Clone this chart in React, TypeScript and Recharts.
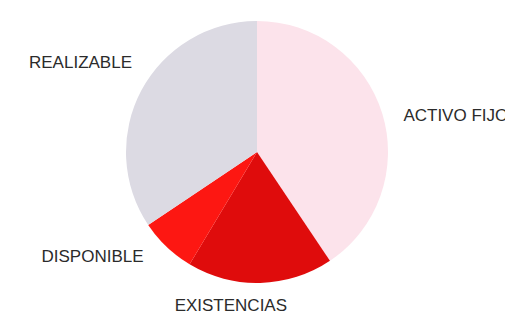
import React from "react";
import { PieChart, Pie, Cell } from "recharts";

// balance composition, read clockwise from 12 o'clock
const categories = ["ACTIVO FIJO", "EXISTENCIAS", "DISPONIBLE", "REALIZABLE"];
const shares = [40.6, 18, 7, 34.4];
const sliceColors = ["#fce3eb", "#df0c0c", "#fd1712", "#dcdae3"];

// small nudges so the labels sit where the original put them
const labelNudge = [
  { dx: 0, dy: 8 },
  { dx: -30, dy: 1 },
  { dx: -8, dy: -6 },
  { dx: 10, dy: -17 },
];

const data = categories.map((name, i) => ({ name, value: shares[i] }));

const RADIAN = Math.PI / 180;

const renderLabel = (props: any) => {
  const { cx, cy, midAngle, outerRadius, index, name } = props;
  const r = outerRadius + 22;
  const cos = Math.cos(-midAngle * RADIAN);
  const sin = Math.sin(-midAngle * RADIAN);
  const nudge = labelNudge[index];
  const x = cx + r * cos + nudge.dx;
  const y = cy + r * sin + nudge.dy;
  const anchor = cos > 0.3 ? "start" : cos < -0.3 ? "end" : "middle";
  return (
    <text
      x={x}
      y={y}
      textAnchor={anchor}
      dominantBaseline="central"
      fill="#2b2b2b"
      fontSize={17}
      fontFamily="'Liberation Sans', Arial, sans-serif"
    >
      {name}
    </text>
  );
};

export default function App() {
  return (
    <div style={{ width: 505, height: 306, background: "#fff" }}>
      <PieChart width={505} height={306}>
        <Pie
          data={data}
          dataKey="value"
          nameKey="name"
          cx={244}
          cy={139}
          outerRadius={131}
          startAngle={90}
          endAngle={-270}
          stroke="none"
          label={renderLabel}
          labelLine={false}
          isAnimationActive={false}
        >
          {data.map((d, i) => (
            <Cell key={d.name} fill={sliceColors[i]} />
          ))}
        </Pie>
      </PieChart>
    </div>
  );
}
